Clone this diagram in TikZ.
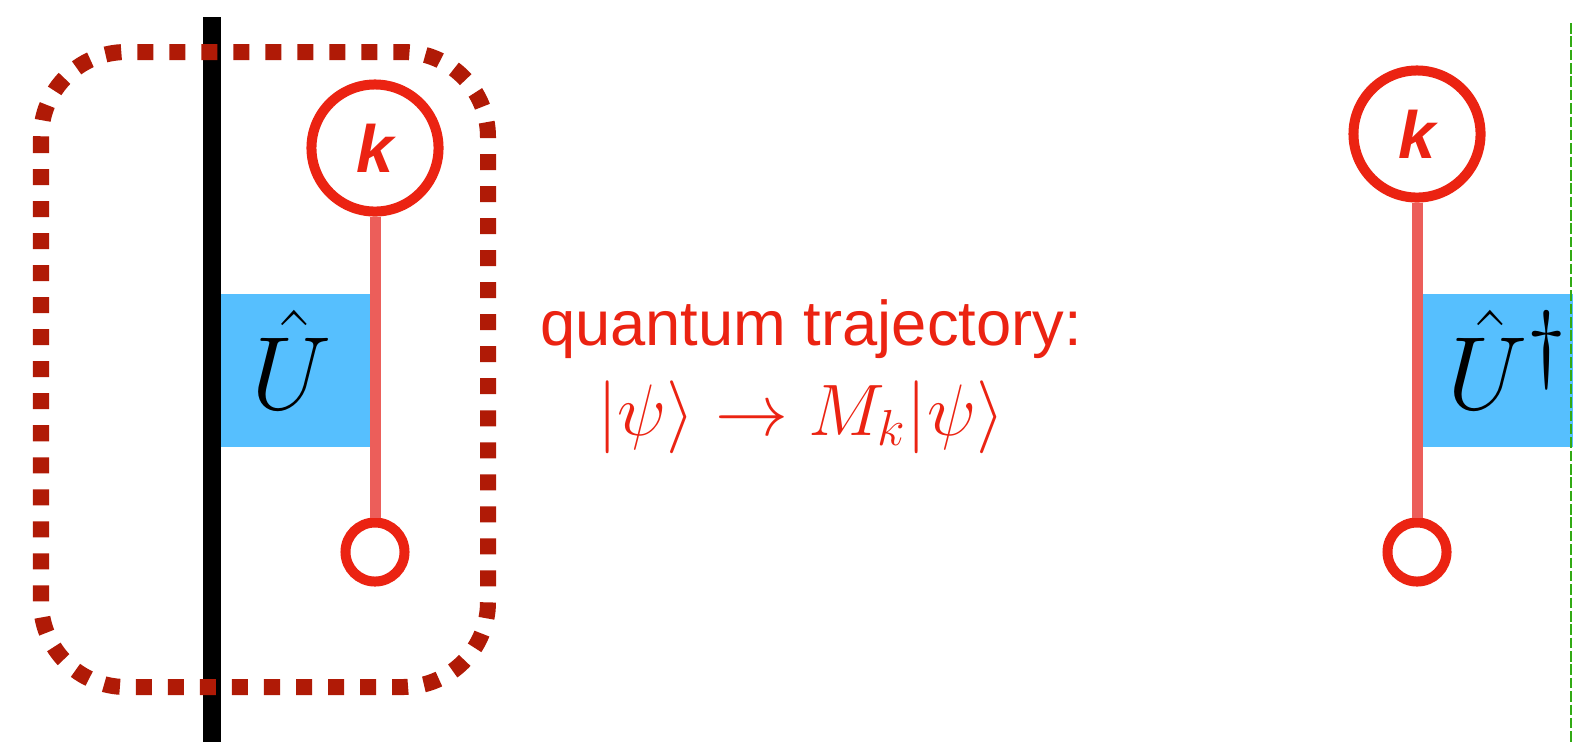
\documentclass[tikz,border=0pt]{standalone}
\usepackage{fontspec}
\setsansfont{Liberation Sans}
\usepackage{amsmath, amssymb}
\usetikzlibrary{calc, positioning}
\definecolor{trajRed}{RGB}{235, 35, 18}
\definecolor{linkRed}{RGB}{236, 94, 90}
\definecolor{frameRed}{RGB}{176, 26, 6}
\definecolor{gateBlue}{RGB}{86, 191, 254}
\definecolor{edgeGreen}{RGB}{50, 170, 20}
\newcommand{\gatesym}[1]{\scalebox{1.19}{$#1$}}

\begin{document}
\begin{tikzpicture}[x=0.01cm, y=-0.01cm,
  outcome/.style={circle, draw=trajRed, line width=0.1cm, fill=white, minimum size=1.27cm, inner sep=0pt,
    text=trajRed, font=\sffamily\bfseries\itshape\fontsize{19}{19}\selectfont},
  endpt/.style={circle, draw=trajRed, line width=0.1cm, fill=white, minimum size=0.59cm, inner sep=0pt},
  link/.style={linkRed, line width=0.11cm},
  gate/.style={fill=gateBlue, draw=none, inner sep=0pt, anchor=north west},
  gatelabel/.style={inner sep=0pt, font=\fontsize{24.88}{26}\selectfont}]
  \useasboundingbox (0,0) rectangle (1573,741);

  % Gates
  \node[gate, minimum width=1.65cm, minimum height=1.53cm] (gU) at (205,293) {};
  \node[gate, minimum width=1.6cm, minimum height=1.53cm] (gUd) at (1420,293) {};
  \node[gatelabel, anchor=base] (lU) at (292,409) {\gatesym{\hat{U}}};
  \node[gatelabel, anchor=base west] (lUd) at (1447,409) {\gatesym{\hat{U}^{\dagger}}};

  % World line and its cut
  \coordinate (wtop) at (212,17);
  \coordinate (wbot) at (212,745);
  \draw[line width=0.18cm] (wtop) -- (wbot);
  \coordinate (etop) at (1571,23);
  \coordinate (ebot) at (1571,745);
  \draw[edgeGreen, line width=0.8pt, dash pattern=on 3pt off 0.8pt] (etop) -- (ebot);

  % Measurement record (left)
  \node[outcome] (k1) at (375,148) {k};
  \node[endpt] (o1) at (375,552) {};
  \draw[link] (k1) -- (o1);

  % Measurement record (right)
  \node[outcome] (k2) at (1417,134) {k};
  \node[endpt] (o2) at (1417,552) {};
  \draw[link] (k2) -- (o2);

  % Enclosing frame
  \draw[frameRed, line width=0.16cm, dash pattern=on 0.16cm off 0.16cm, rounded corners=0.85cm]
    (41,52) rectangle (488,687);

  % Caption
  \node[anchor=base, text=trajRed, font=\sffamily\fontsize{18}{20}\selectfont] (cap) at (811,345) {quantum trajectory:};
  \node[anchor=base, text=trajRed, font=\fontsize{20.74}{24}\selectfont] (eq) at (801,435)
    {$|\psi\rangle \rightarrow M_k|\psi\rangle$};
\end{tikzpicture}
\end{document}
